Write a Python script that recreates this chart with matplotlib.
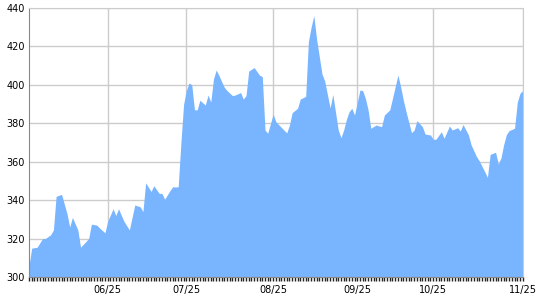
import numpy as np
import matplotlib.pyplot as plt

# days counted from 2015-05-27
days = [0, 1, 3, 5, 6, 8, 9, 10, 12, 14, 15, 16, 18, 19, 20, 22, 23, 25, 26, 28,
        29, 31, 32, 33, 35, 37, 39, 41, 42, 43, 45, 46, 48, 49, 50, 52, 53, 54,
        55, 56, 57, 58, 59, 60, 61, 62, 63, 65, 66, 67, 68, 69, 70, 71, 72, 73,
        75, 76, 78, 79, 80, 81, 83, 85, 86, 87, 88, 90, 91, 93, 95, 96, 97, 99,
        100, 102, 103, 104, 105, 106, 108, 109, 110, 111, 112, 114, 115, 116,
        117, 118, 119, 120, 122, 123, 124, 125, 126, 128, 129, 130, 131, 133,
        134, 136, 137, 138, 139, 141, 142, 143, 145, 146, 148, 149, 150, 152,
        153, 155, 156, 158, 159, 160, 162, 163, 165, 166, 168, 169, 170, 171,
        172, 173, 174, 175, 176, 177, 179, 180, 181, 182]
values = [306, 315, 315.5, 320, 320, 322, 324.5, 342, 343, 333, 326, 331, 324.5,
          315.5, 317, 320, 327.5, 327, 325.5, 323, 329, 335.5, 332, 335.5, 329,
          324.5, 337.5, 336.5, 334, 349, 344.5, 347.5, 343.5, 343.5, 340.5, 345,
          347, 346.8, 347, 370, 390, 397, 401, 400, 387, 387, 392, 389.5, 394.7,
          391, 403, 407.7, 405, 401.7, 398.7, 397, 394.4, 394.7, 396, 392.6,
          394.4, 407.2, 409, 405, 404.3, 376.5, 374.8, 384.8, 380.8, 377.9, 375,
          379, 385.5, 387.8, 392.6, 394, 422.5, 430, 436, 424, 405.7, 402, 395,
          388, 395, 376.5, 372.5, 376.5, 382, 386, 387.8, 384.3, 397.3, 397, 393,
          387, 377.4, 379.1, 378.6, 378.3, 384.3, 387, 393, 405.1, 399, 392, 386,
          375.1, 376.5, 381.4, 378.3, 374.4, 373.9, 371.7, 371.7, 375.6, 372.2,
          378.6, 376.5, 377.7, 376, 379.4, 373.9, 368.7, 362.6, 360.4, 354.8,
          351.9, 363.8, 364.4, 364.9, 358.8, 362, 369, 374.2, 376.2, 377.4,
          390.9, 395.6, 397]

tick_labels = ['06/25', '07/25', '08/25', '09/25', '10/25', '11/25']
tick_days = [29, 58, 90, 121, 149, 182]
y_ticks = [300, 320, 340, 360, 380, 400, 420, 440]

fig = plt.figure(figsize=(5.4, 3.0), dpi=100)
ax = fig.add_axes([29 / 540, 1 - 277 / 300, (522.7 - 29) / 540, (277 - 8) / 300])

ax.fill_between(days, values, 300, color='#79b4fe', linewidth=0, zorder=2)

ax.set_xlim(0, 182)
ax.set_ylim(300, 440)
ax.set_yticks(y_ticks)
ax.set_xticks(tick_days)
ax.set_xticklabels(tick_labels)
ax.set_xticks(np.arange(0, 183), minor=True)
ax.grid(True, color='#cccccc', linewidth=1, zorder=0)
ax.set_axisbelow(True)

ax.tick_params(axis='y', length=0, pad=3, labelsize=7)
ax.tick_params(axis='x', which='major', length=3, width=1, pad=3, labelsize=7,
               color='#222222')
ax.tick_params(axis='x', which='minor', length=3, width=1, color='#222222')

for side in ['top', 'right']:
    ax.spines[side].set_color('#cccccc')
ax.spines['left'].set_color('#888888')
ax.spines['bottom'].set_color('#888888')

fig.savefig('out.png', dpi=100)
